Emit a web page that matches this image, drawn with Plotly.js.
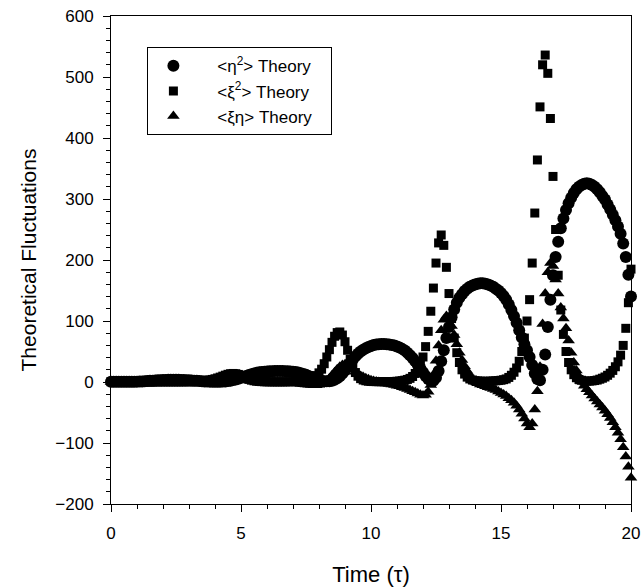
<!DOCTYPE html>
<html>
<head>
<meta charset="utf-8">
<script src="https://cdn.plot.ly/plotly-3.0.1.min.js"></script>
<style>html,body{margin:0;padding:0;background:#fff;}#chart{width:642px;height:588px;}</style>
</head>
<body>
<div id="chart"></div>
<script>
// Time axis (tau), sampled every 0.1
const time = [
 0.0,0.1,0.2,0.3,0.4,0.5,0.6,0.7,0.8,0.9,
 1.0,1.1,1.2,1.3,1.4,1.5,1.6,1.7,1.8,1.9,
 2.0,2.1,2.2,2.3,2.4,2.5,2.6,2.7,2.8,2.9,
 3.0,3.1,3.2,3.3,3.4,3.5,3.6,3.7,3.8,3.9,
 4.0,4.1,4.2,4.3,4.4,4.5,4.6,4.7,4.8,4.9,
 5.0,5.1,5.2,5.3,5.4,5.5,5.6,5.7,5.8,5.9,
 6.0,6.1,6.2,6.3,6.4,6.5,6.6,6.7,6.8,6.9,
 7.0,7.1,7.2,7.3,7.4,7.5,7.6,7.7,7.8,7.9,
 8.0,8.1,8.2,8.3,8.4,8.5,8.6,8.7,8.8,8.9,
 9.0,9.1,9.2,9.3,9.4,9.5,9.6,9.7,9.8,9.9,
 10.0,10.1,10.2,10.3,10.4,10.5,10.6,10.7,10.8,10.9,
 11.0,11.1,11.2,11.3,11.4,11.5,11.6,11.7,11.8,11.9,
 12.0,12.1,12.2,12.3,12.4,12.5,12.6,12.7,12.8,12.9,
 13.0,13.1,13.2,13.3,13.4,13.5,13.6,13.7,13.8,13.9,
 14.0,14.1,14.2,14.3,14.4,14.5,14.6,14.7,14.8,14.9,
 15.0,15.1,15.2,15.3,15.4,15.5,15.6,15.7,15.8,15.9,
 16.0,16.1,16.2,16.3,16.4,16.5,16.6,16.7,16.8,16.9,
 17.0,17.1,17.2,17.3,17.4,17.5,17.6,17.7,17.8,17.9,
 18.0,18.1,18.2,18.3,18.4,18.5,18.6,18.7,18.8,18.9,
 19.0,19.1,19.2,19.3,19.4,19.5,19.6,19.7,19.8,19.9,
 20.0
];

// <eta^2> theory (circles)
const eta2 = [
 0.5,0.5,0.4,0.4,0.3,0.3,0.3,0.3,0.4,0.5,
 0.6,0.8,1.0,1.3,1.6,1.9,2.2,2.5,2.8,3.0,
 3.2,3.4,3.5,3.6,3.6,3.6,3.5,3.4,3.2,3.0,
 2.8,2.5,2.2,1.9,1.6,1.3,1.0,0.8,0.6,0.5,
 0.4,0.4,0.5,0.7,1.0,1.5,2.2,3.1,4.2,5.5,
 7.0,8.5,10,11.5,12.8,14,15,15.8,16.4,16.9,
 17.3,17.6,17.8,17.9,18,18,17.9,17.7,17.5,17.2,
 16.8,16.2,15.4,14.4,13.2,11.7,10,8.2,6.3,4.6,
 3.2,2.1,1.4,1.1,1.3,2.2,3.8,6.2,9.5,14,
 19,25,31,37,42,46.5,50,53,55.5,57.5,
 59,60.5,61.5,62,62.3,62.3,62,61.5,60.7,59.7,
 58.3,56.5,54.3,51.5,48,44,39.5,34,28,22,
 16,10,5,2,2,7,18,34,52,72,
 90,106,119,130,138,144,149,153,156,158,
 160,161,162,162,161,160,158,156,153,150,
 146,141,135,127,118,108,97,85,73,62,
 52,41,28,14,5,3,20,45,90,135,
 175,205,230,252,268,282,293,302,310,316,
 320,323,325,326,325,323,320,316,311,305,
 299,291,283,274,265,255,243,227,205,176,
 140
];

// <xi^2> theory (squares)
const xi2 = [
 0.5,0.7,1.0,1.4,1.8,2.1,2.3,2.3,2.1,1.8,
 1.4,1.0,0.7,0.5,0.3,0.2,0.2,0.2,0.2,0.2,
 0.2,0.2,0.2,0.2,0.2,0.2,0.2,0.2,0.3,0.3,
 0.4,0.5,0.7,0.9,1.2,1.6,2.0,2.6,3.3,4.2,
 5.3,6.6,8.0,9.6,11.2,12.6,13.6,14.0,13.6,12.4,
 10.5,8.3,6.2,4.4,3.0,2.0,1.3,0.9,0.6,0.4,
 0.3,0.3,0.2,0.2,0.2,0.2,0.2,0.3,0.3,0.4,
 0.5,0.7,1.0,1.4,2.0,2.8,3.9,5.4,7.5,10.5,
 15,21,30,41,53,65,75,81,82,77,
 66,52,37,25,15.5,9.5,5.5,3.2,2.0,1.3,
 0.9,0.7,0.6,0.5,0.5,0.5,0.5,0.6,0.7,0.9,
 1.2,1.6,2.2,3.0,4.2,6.0,9,14,20,29,
 41,58,83,116,154,195,228,241,224,188,
 145,104,72,48,32,20,13,8,5,3.3,
 2.2,1.7,1.4,1.2,1.1,1.2,1.4,1.7,2.0,2.4,
 2.9,3.8,5.0,7.5,11,16,23,34,50,72,
 100,135,195,277,364,451,520,536,506,432,
 337,250,175,118,78,50,32,20,12,7,
 4.2,2.8,1.6,1.3,1.5,1.8,2.4,3.2,4.6,6.2,
 8.2,11,14.5,19,25,33,44,60,88,130,
 185
];

// <xi eta> theory (triangles)
const xieta = [
 0,0.3,0.6,0.8,0.8,0.6,0.3,0,-0.3,-0.5,
 -0.6,-0.7,-0.7,-0.6,-0.5,-0.4,-0.3,-0.2,-0.1,0,
 0,0,0,0,0,0,0,0,0,0,
 -0.1,-0.2,-0.3,-0.4,-0.6,-0.8,-1.0,-1.1,-1.2,-1.2,
 -1.0,-0.6,0,0.8,1.8,2.8,3.6,4.2,4.5,4.4,
 4.0,3.5,3.0,2.5,2.1,1.7,1.4,1.1,0.9,0.7,
 0.5,0.3,0.1,-0.1,-0.3,-0.5,-0.7,-0.9,-1.2,-1.5,
 -1.8,-2.2,-2.6,-3.1,-3.6,-4.1,-4.6,-5.0,-5.3,-5.2,
 -4.5,-3.0,-1.0,2,6,11,16,21,25,28,
 29,28,25,21,17,13,10,8,6,4.5,
 3,1.8,0.8,0,-0.8,-1.6,-2.4,-3.2,-4.0,-5.0,
 -6,-7,-8.5,-10,-11.5,-13,-15,-17,-19,-21,
 -22,-21,-16,-5,12,35,60,85,102,108,
 104,92,77,62,48,36,26,18,11,5,
 1,-2,-4,-5.5,-7,-8.5,-10,-11.5,-13,-15.5,
 -18,-20.5,-23,-26.5,-30,-34,-39,-45,-52,-60,
 -68,-74,-68,-45,-15,25,95,145,180,195,
 190,168,145,122,104,88,68,48,32,19,
 9,1,-6,-12,-17,-22,-27,-32,-37,-42,
 -47,-53,-59,-66,-74,-83,-94,-107,-122,-139,
 -157
];

const NB = '\u00a0';
const PADL = NB + NB + NB + NB;
const PADR = NB + NB + NB;
const seriesNames = [
  '&lt;\u03b7<sup>2</sup>&gt; Theory',
  '&lt;\u03be<sup>2</sup>&gt; Theory',
  '&lt;\u03be\u03b7&gt; Theory'
];

const FONT = 'Liberation Sans, Arial, Helvetica, sans-serif';

const traces = [
  {x: time, y: eta2, name: PADL + seriesNames[0] + PADR, mode: 'markers', type: 'scatter', cliponaxis: false,
   marker: {symbol: 'circle', size: 12, color: '#000', line: {width: 0}}},
  {x: time, y: xi2, name: PADL + seriesNames[1] + PADR, mode: 'markers', type: 'scatter', cliponaxis: false,
   marker: {symbol: 'square', size: 9, color: '#000', line: {width: 0}}},
  {x: time, y: xieta, name: PADL + seriesNames[2] + PADR, mode: 'markers', type: 'scatter', cliponaxis: false,
   marker: {symbol: 'triangle-up', size: 11, color: '#000', line: {width: 0}}}
];

const layout = {
  width: 642, height: 588,
  margin: {l: 111, r: 11, t: 16, b: 84, pad: 0},
  paper_bgcolor: '#fff', plot_bgcolor: '#fff',
  font: {family: FONT, size: 17, color: '#000'},
  showlegend: true,
  legend: {x: 0.07, y: 0.936, xanchor: 'left', yanchor: 'top', bgcolor: '#fff',
           bordercolor: '#000', borderwidth: 1, font: {family: FONT, size: 17, color: '#000'},
           itemwidth: 40, tracegroupgap: 0},
  xaxis: {range: [0, 20], tick0: 0, dtick: 5, ticks: 'outside', ticklen: 7, tickwidth: 1, tickcolor: '#000',
          showline: true, linecolor: '#000', linewidth: 1, mirror: true, showgrid: false, zeroline: false,
          minor: {dtick: 1, ticks: 'outside', ticklen: 4, tickcolor: '#000', showgrid: false},
          tickfont: {family: FONT, size: 17}, ticklabelstandoff: 7,
          title: {text: 'Time (\u03c4)', font: {family: FONT, size: 22}, standoff: 24}},
  yaxis: {range: [-200, 600], tick0: 0, dtick: 100, ticks: 'outside', ticklen: 7, tickwidth: 1, tickcolor: '#000',
          showline: true, linecolor: '#000', linewidth: 1, mirror: true, showgrid: false, zeroline: false,
          minor: {dtick: 20, ticks: 'outside', ticklen: 4, tickcolor: '#000', showgrid: false},
          tickfont: {family: FONT, size: 17}, ticklabelstandoff: 6,
          title: {text: 'Theoretical Fluctuations', font: {family: FONT, size: 21}, standoff: 12}}
};

Plotly.newPlot('chart', traces, layout, {displayModeBar: false, staticPlot: true});
</script>
</body>
</html>
